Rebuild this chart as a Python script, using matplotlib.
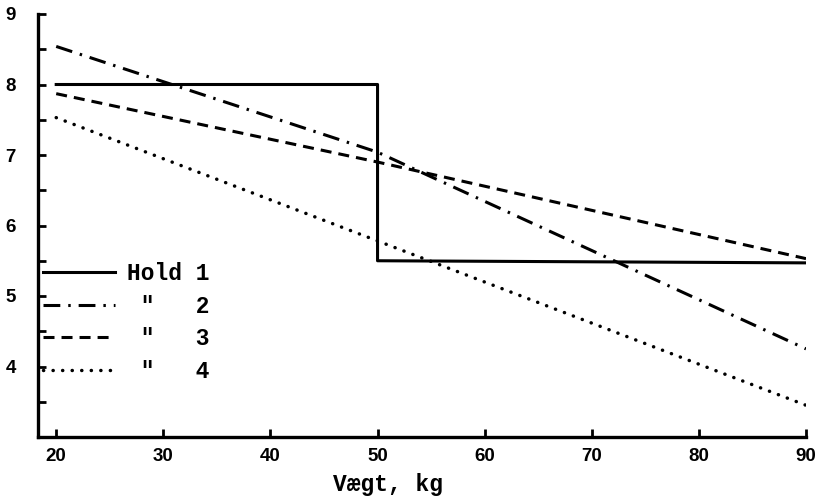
import matplotlib.pyplot as plt
import numpy as np

hold1_x = [20, 50, 50, 90]
hold1_y = [8.0, 8.0, 5.5, 5.47]
hold2_x = [20, 50, 90]
hold2_y = [8.54, 7.04, 4.25]
hold3_x = [20, 50, 90]
hold3_y = [7.87, 6.90, 5.53]
hold4_x = [20, 90]
hold4_y = [7.53, 3.45]

labels = ['Hold 1', ' "   2', ' "   3', ' "   4']
xticks = [20, 30, 40, 50, 60, 70, 80, 90]
yticks = [4, 5, 6, 7, 8, 9]

fig = plt.figure(figsize=(8.28, 5.01), dpi=100)
ax = fig.add_axes([38/828, 1-437/501, (806-38)/828, (437-14)/501])

lw = 2.2
ax.plot(hold1_x, hold1_y, '-', color='k', lw=lw, label=labels[0])
ax.plot(hold2_x, hold2_y, color='k', lw=lw, linestyle=(0, (5.5, 2.6, 0.8, 2.6)), label=labels[1])
ax.plot(hold3_x, hold3_y, color='k', lw=lw, linestyle=(0, (3.6, 2.3)), label=labels[2])
ax.plot(hold4_x, hold4_y, color='k', lw=2.5, linestyle=(0, (0.05, 2.7)),
        dash_capstyle='round', label=labels[3])

ax.set_xlim(18.3, 90)
ax.set_ylim(3.0, 9.0)
ax.set_xticks(xticks)
ax.set_yticks(yticks)
ax.set_yticks(np.arange(3.5, 9.01, 0.5), minor=True)

for s in ['top', 'right']:
    ax.spines[s].set_visible(False)
for s in ['left', 'bottom']:
    ax.spines[s].set_linewidth(2.4)

ax.tick_params(which='both', direction='in', width=2, color='k')
ax.tick_params(which='major', length=6, pad=8)
ax.tick_params(which='minor', length=6)
ax.tick_params(axis='y', which='major', pad=16)
for t in ax.get_xticklabels() + ax.get_yticklabels():
    t.set_fontfamily('Liberation Sans')
    t.set_fontsize(13.5)
    t.set_fontweight('bold')

ax.set_xlabel('Vægt, kg', fontfamily='Liberation Mono', fontsize=16.5, fontweight='bold',
              labelpad=6, x=(388-38)/768)

leg = ax.legend(loc='upper left', bbox_to_anchor=(-6/768, 1-(251-14)/423), frameon=False,
                prop={'family': 'Liberation Mono', 'size': 16.5, 'weight': 'bold'},
                handlelength=3.1, handletextpad=0.55, labelspacing=0.41, borderpad=0)

fig.savefig('out.png', dpi=100)
